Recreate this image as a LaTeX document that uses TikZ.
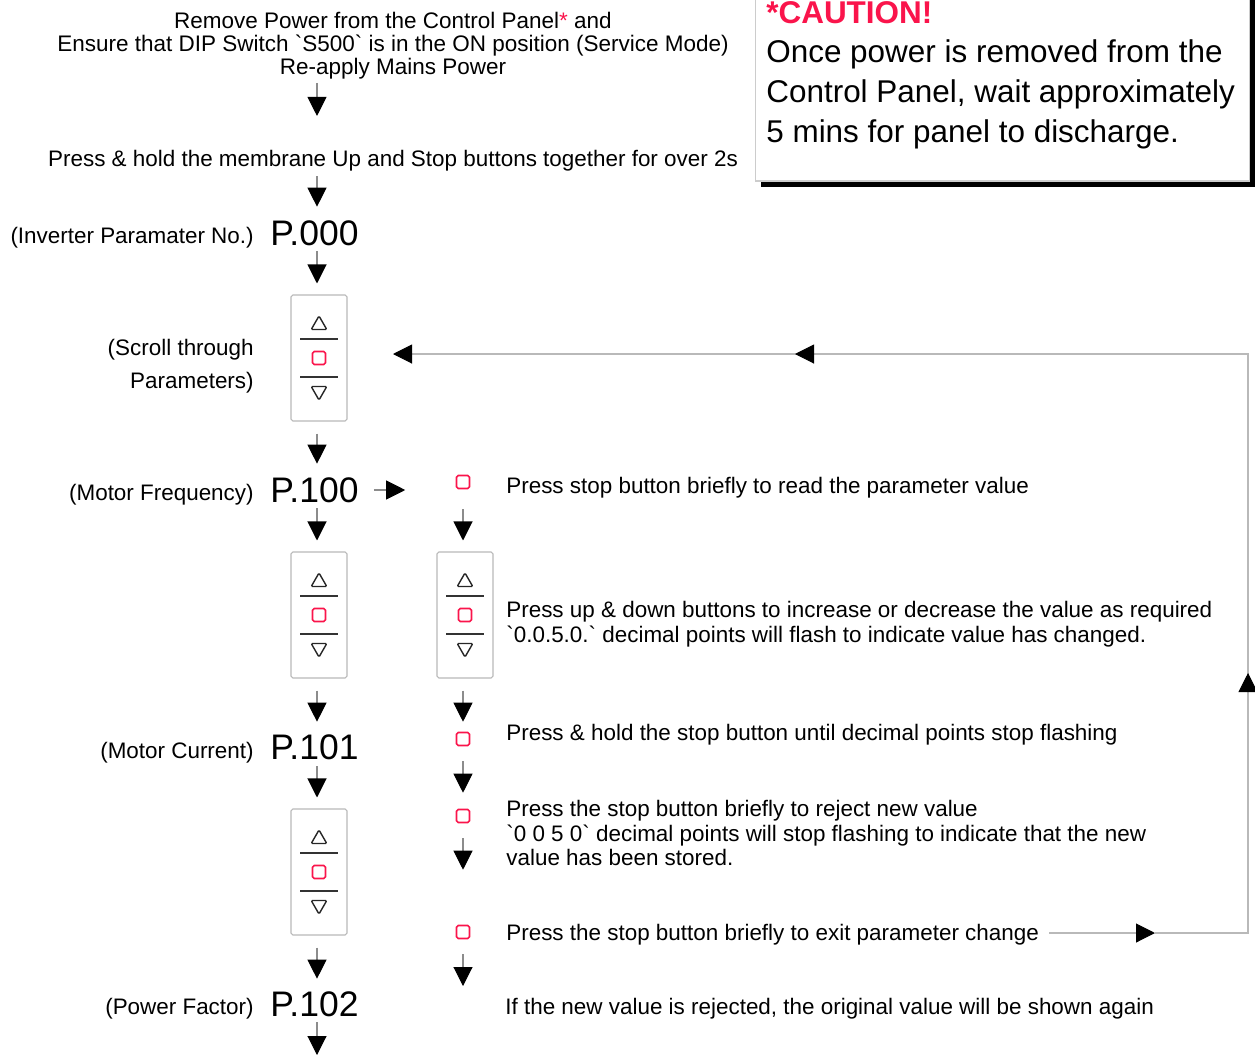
\documentclass[tikz,border=0pt]{standalone}
\usepackage{fontspec}
\setmainfont{Liberation Sans}[Ligatures=TeXOff]
\definecolor{stopred}{RGB}{250, 20, 75}
\definecolor{stemgray}{RGB}{140, 140, 140}
\definecolor{wiregray}{RGB}{185, 185, 185}
\usetikzlibrary{shapes.geometric, arrows.meta, positioning}
\tikzstyle{flow} = [stemgray, line width=0.6pt, -{Triangle[length=0.38cm, width=0.38cm, black]}]
\tikzstyle{wire} = [wiregray, line width=0.6pt]
\tikzstyle{steptext} = [inner sep=0, anchor=base west, font=\fontsize{12.77}{14.2}\selectfont,
                        text height=9.5pt, text depth=2.7pt]
\tikzstyle{sidetext} = [steptext, anchor=base east]
\tikzstyle{block} = [inner sep=0, anchor=west, align=left, font=\fontsize{12.77}{14.2}\selectfont]
\tikzstyle{toptext} = [inner sep=0, align=center, font=\fontsize{12.8}{13.1}\selectfont]
\tikzstyle{pcode} = [inner sep=0, anchor=base west, font=\fontsize{20.2}{24}\selectfont,
                     text height=14.5pt, text depth=0pt]
\tikzstyle{padbox} = [draw=wiregray, rounded corners=1pt, line width=0.6pt, minimum width=1.12cm, minimum height=2.52cm]
\tikzstyle{stopkey} = [draw=stopred, rounded corners=1pt, line width=0.9pt, minimum size=0.26cm, inner sep=0]
\tikzstyle{arrowkey} = [draw=black!85, regular polygon, regular polygon sides=3, rounded corners=0.7pt,
                        line width=0.8pt, minimum size=0.36cm, inner sep=0]
\newcommand{\keypad}[3]{
    \node[padbox] (#1) at (#2, #3) {};
    \node[arrowkey] (#1up) at (#2, #3-33) {};
    \node[stopkey] (#1stop) at (#2, #3) {};
    \node[arrowkey, shape border rotate=180] (#1down) at (#2, #3+33) {};
    \draw[black!80, line width=0.7pt] (#2-19, #3-19) -- (#2+19, #3-19);
    \draw[black!80, line width=0.7pt] (#2-19, #3+19) -- (#2+19, #3+19);
}
\begin{document}
\begin{tikzpicture}[x=0.02cm, y=-0.02cm]
    \clip (0, 0) rectangle (1255, 1055);
    % caution box
    \fill[black] (761, -10) rectangle (1255, 187);
    \node[draw=black!20, fill=white, line width=0.6pt, minimum width=9.9cm, minimum height=3.82cm, inner sep=0] (caution) at (1002.5, 85.5) {};
    \node[inner sep=0, anchor=west, align=left, font=\fontsize{17.9}{22.5}\selectfont] (warn) at (766, 75)
        {\textcolor{stopred}{\textbf{*CAUTION!}}\\Once power is removed from the\\Control Panel, wait approximately\\5 mins for panel to discharge.};
    % left column
    \node[toptext] (remove) at (393, 46)
        {Remove Power from the Control Panel\textcolor{stopred}{*} and\\Ensure that DIP Switch `S500` is in the ON position (Service Mode)\\Re-apply Mains Power};
    \node[steptext, anchor=base] (hold) at (393, 166) {Press \& hold the membrane Up and Stop buttons together for over 2s};
    \node[pcode] (p000) at (270, 245) {P.000};
    \node[pcode] (p100) at (270, 502) {P.100};
    \node[pcode] (p101) at (270, 759) {P.101};
    \node[pcode] (p102) at (270, 1016) {P.102};
    \node[sidetext] (lab000) at (254, 243.5) {(Inverter Paramater No.)};
    \node[inner sep=0, anchor=east, align=right, font=\fontsize{12.77}{18.8}\selectfont] (labscroll) at (254, 366.5) {(Scroll through\\Parameters)};
    \node[sidetext] (lab100) at (254, 500.5) {(Motor Frequency)};
    \node[sidetext] (lab101) at (254, 758.5) {(Motor Current)};
    \node[sidetext] (lab102) at (254, 1014.5) {(Power Factor)};
    \keypad{padscroll}{319}{358}
    \keypad{padfreq}{319}{615}
    \keypad{padcur}{319}{872}
    \keypad{padval}{465}{615}
    % right column
    \node[stopkey] (stopread) at (463, 482) {};
    \node[stopkey] (stopsave) at (463, 739) {};
    \node[stopkey] (stopreject) at (463, 816) {};
    \node[stopkey] (stopexit) at (463, 932) {};
    \node[steptext] (readtext) at (506, 493) {Press stop button briefly to read the parameter value};
    \node[block] (changetext) at (506, 624.5) {Press up \& down buttons to increase or decrease the value as required\\`0.0.5.0.` decimal points will flash to indicate value has changed.};
    \node[steptext] (savetext) at (506, 740.5) {Press \& hold the stop button until decimal points stop flashing};
    \node[block] (rejecttext) at (506, 833) {Press the stop button briefly to reject new value\\`0 0 5 0` decimal points will stop flashing to indicate that the new\\value has been stored.};
    \node[steptext] (exittext) at (506, 940) {Press the stop button briefly to exit parameter change};
    \node[steptext] (origtext) at (505, 1014) {If the new value is rejected, the original value will be shown again};
    % lanes of arrows
    \coordinate (lanea) at (317, 0);
    \coordinate (laneb) at (463, 0);
    \draw[flow, shorten <=0.06cm, shorten >=0.66cm] (lanea |- remove.south) -- (lanea |- hold.north);
    \draw[flow, shorten <=0.1cm, shorten >=0.25cm] (lanea |- hold.south) -- (lanea |- p000.north);
    \draw[flow, shorten <=0.12cm, shorten >=0.22cm] (lanea |- p000.south) -- (lanea |- padscroll.north);
    \draw[flow, shorten <=0.24cm, shorten >=0.25cm] (lanea |- padscroll.south) -- (lanea |- p100.north);
    \draw[flow, shorten <=0.12cm, shorten >=0.22cm] (lanea |- p100.south) -- (lanea |- padfreq.north);
    \draw[flow, shorten <=0.24cm, shorten >=0.23cm] (lanea |- padfreq.south) -- (lanea |- p101.north);
    \draw[flow, shorten <=0.14cm, shorten >=0.22cm] (lanea |- p101.south) -- (lanea |- padcur.north);
    \draw[flow, shorten <=0.24cm, shorten >=0.23cm] (lanea |- padcur.south) -- (lanea |- p102.north);
    \coordinate (offpage) at (317, 1055);
    \draw[flow, shorten <=0.12cm] (lanea |- p102.south) -- (offpage);
    \draw[flow, shorten <=0.4cm, shorten >=0.22cm] (laneb |- stopread.south) -- (laneb |- padval.north);
    \draw[flow, shorten <=0.24cm, shorten >=0.2cm] (laneb |- padval.south) -- (laneb |- stopsave.north);
    \draw[flow, shorten <=0.3cm, shorten >=0.32cm] (laneb |- stopsave.south) -- (laneb |- stopreject.north);
    \draw[flow, shorten <=0.3cm, shorten >=1.1cm] (laneb |- stopreject.south) -- (laneb |- stopexit.north);
    \coordinate (exitend) at (463, 986);
    \draw[flow, shorten <=0.3cm] (laneb |- stopexit.south) -- (exitend);
    \coordinate (lanec) at (0, 490);
    \draw[flow, shorten <=0.3cm, shorten >=1.01cm] (p100.east |- lanec) -- (stopread.west |- lanec);
    % loop back
    \coordinate (tipa) at (1155, 933);
    \coordinate (cornera) at (1248, 933);
    \coordinate (tipb) at (1248, 673);
    \coordinate (cornerb) at (1248, 354);
    \coordinate (tipc) at (795, 354);
    \coordinate (tipd) at (393, 354);
    \draw[flow, wiregray, shorten <=0.2cm] (exittext.east |- tipa) -- (tipa);
    \draw[wire] (tipa) -- (cornera) -- (tipb);
    \draw[flow, wiregray] (tipb) ++(0, 1) -- (tipb);
    \draw[wire] (tipb) -- (cornerb) -- (tipc);
    \draw[flow, wiregray] (tipc) ++(1, 0) -- (tipc);
    \draw[flow, wiregray] (tipc) -- (tipd);
\end{tikzpicture}
\end{document}
